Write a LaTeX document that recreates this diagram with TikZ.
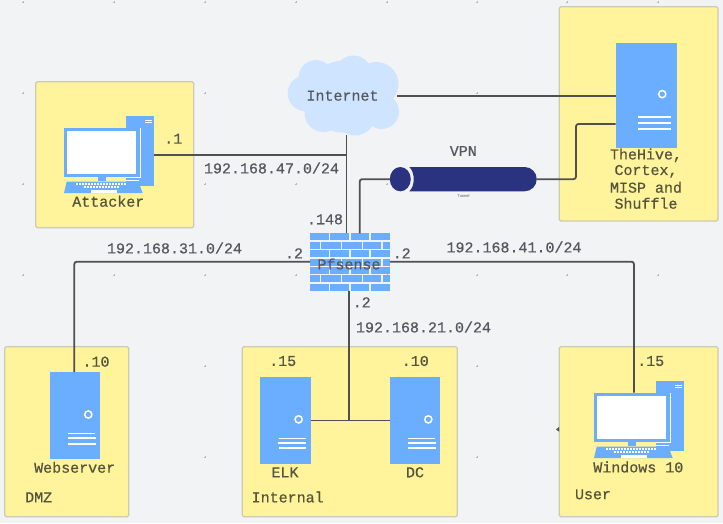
\documentclass[tikz,border=0pt]{standalone}
\usepackage{fontspec}
\setmainfont{Liberation Mono}[FakeBold=0.6]
\setsansfont{Liberation Sans}
\definecolor{bg}{HTML}{F2F3F5}
\definecolor{zone}{HTML}{FFF49C}
\definecolor{zoneline}{HTML}{CCCBB4}
\definecolor{dev}{HTML}{6BAEFF}
\definecolor{wire}{HTML}{505050}
\definecolor{tun}{HTML}{2A337F}
\definecolor{cloudc}{HTML}{CFE4FF}
\definecolor{txtbg}{HTML}{55585E}
\definecolor{txtzone}{HTML}{55543C}
\tikzset{
  zonebox/.style={draw=zoneline,fill=zone,line width=1.2pt,rounded corners=1.5pt},
  devbox/.style={fill=dev,inner sep=0pt,outer sep=0pt},
  conn/.style={draw=wire,line width=1.8pt,rounded corners=2.5pt},
  lab/.style={inner sep=0pt,outer sep=0pt,text=txtbg,font=\fontsize{15}{16}\selectfont,align=center},
  zlab/.style={lab,text=txtzone},
  ghost/.style={inner sep=0pt,outer sep=0pt},
}
\newcommand{\serverbox}[5]{%
  \begin{scope}[shift={(#2,#3)},x=#4pt,y=-#5pt]
    \node[devbox,minimum width=#4pt,minimum height=#5pt] (#1) at (0.5,0.5) {};
    \draw[white,line width=1.5pt] (0.763,0.487) circle[radius=3.6pt];
    \draw[white,line width=1.3pt] (0.37,0.706) -- (0.9,0.706);
    \draw[white,line width=1.9pt] (0.36,0.76) -- (0.91,0.76);
    \draw[white,line width=1.9pt] (0.37,0.82) -- (0.91,0.82);
  \end{scope}}
\newcommand{\computerbox}[3]{%
  \begin{scope}[shift={(#2,#3)}]
    \node[devbox,minimum width=28.3pt,minimum height=70.3pt] (#1tower) at (140.15,150.85) {};
    \draw[white,line width=1pt] (145.3,120) -- (152,120) (145.3,122.7) -- (152,122.7);
    \node[devbox,minimum width=75.6pt,minimum height=48.7pt] (#1mon) at (101.8,152.35) {};
    \fill[white] (67.3,131.3) rectangle (136.3,173.7);
    \draw[white,line width=.9pt] (140.1,128) -- (140.1,177) -- (126,177);
    \fill[dev] (98.3,176.5) rectangle (105.7,181);
    \fill[dev] (66.7,181.7) -- (138.3,181.7) -- (142.7,193) -- (64,193) -- cycle;
    \draw[white,line width=.7pt] (126,180.5) -- (138.5,180.5);
    \draw[white,line width=1.4pt,dash pattern=on 2pt off 1pt] (76,184) -- (126,184);
    \draw[white,line width=1.4pt,dash pattern=on 2pt off 1pt] (84,187) -- (119.3,187);
    \fill[white] (90.7,190.3) rectangle (116.7,193);
  \end{scope}}
\begin{document}
\begin{tikzpicture}[x=1pt,y=-1pt]
\useasboundingbox (0,0) rectangle (723,523);
\fill[bg] (0,0) rectangle (723,523);
% grid marks
\foreach \gx in {23,114,205,296,387,477,567,658}
  \foreach \gy in {2,93,184,275,366,457}
    \draw[black!28,line width=.4pt] (\gx-1.2,\gy) -- (\gx+1.2,\gy) (\gx,\gy-1.2) -- (\gx,\gy+1.2);
% zones
\draw[zonebox] (35.7,81.7) rectangle (193.7,227.7);
\draw[zonebox] (559.3,6.7) rectangle (718,221);
\draw[zonebox] (4.7,346.7) rectangle (128.7,516.7);
\draw[zonebox] (242.3,346.7) rectangle (457.3,516.7);
\draw[zonebox] (559.3,346.7) rectangle (718,516.7);
% devices
\computerbox{att}{0}{0}
\computerbox{win}{530}{265}
\serverbox{hive}{615.7}{43.3}{61}{104.4}
\serverbox{web}{49.7}{372}{50.6}{87.3}
\serverbox{elk}{259.7}{377}{51}{87}
\serverbox{dc}{389.7}{377}{50.6}{87}
% cloud
\fill[cloudc]
  (353.3,73.8) circle[radius=18.3]
  (305.5,93.3) circle[radius=17.8]
  (316,77.5) circle[radius=17.5]
  (376.5,84) circle[radius=22]
  (381.5,111.5) circle[radius=17.5]
  (323.5,113) circle[radius=19]
  (355,115) circle[radius=20.5]
  (343.3,96.7) circle[radius=36];
\node[ghost,minimum width=109pt,minimum height=79pt,text=txtbg,font=\fontsize{15}{16}\selectfont] (internet) at (342.5,95.7) {Internet};
% tunnel
\node[ghost,minimum width=146.7pt,minimum height=24.3pt] (tunnel) at (463.35,179.15) {};
\fill[tun] (409.3,167) -- (524.6,167) arc[start angle=-90,end angle=90,radius=12.15] -- (409.3,191.3)
  .. controls (415.2,186) and (415.2,172.3) .. (409.3,167) -- cycle;
\fill[tun] (400.3,179.15) ellipse[x radius=10.5,y radius=12.15];
% firewall
\foreach \ry in {0,2,4,6}
  \foreach \ax/\bx in {310/329,330.3/349,351/369,371/390}
    \fill[dev] (\ax,233.3+8.42*\ry) rectangle (\bx,240.3+8.42*\ry);
\foreach \ry in {1,3,5}
  \foreach \ax/\bx in {310/320,321.3/341,342.3/361.7,363/381.3,382.7/390}
    \fill[dev] (\ax,233.3+8.42*\ry) rectangle (\bx,240.3+8.42*\ry);
\node[ghost,minimum width=80pt,minimum height=57.7pt] (fw) at (350,262.15) {};
\node[lab] (fwlab) at (349,264) {Pfsense};
% connector ends
\coordinate (fwup) at (346.5,233.3);
\coordinate (fwvpn) at (359.7,233.3);
\coordinate (fwleft) at (310,261.7);
\coordinate (fwright) at (390,261.7);
\coordinate (fwdown) at (348.7,291);
\coordinate (fwjoin) at (348.7,420.5);
\coordinate (webtop) at (74.3,372);
\coordinate (wintop) at (634,392.7);
\coordinate (hivevpn) at (615.7,124);
\coordinate (bend) at (576,124);
\coordinate (atteast) at (154.3,155);
% connectors
\draw[conn] (fwup) -- (fwup |- internet.south);
\draw[conn] (atteast) -- (fwup |- atteast);
\draw[conn] (internet.east) -- (internet.east -| hive.west);
\draw[conn] (fwvpn) |- (tunnel.west);
\draw[conn] (tunnel.east) -| (bend) -- (hivevpn);
\draw[conn] (fwleft) -| (webtop);
\draw[conn] (fwright) -| (wintop);
\draw[conn] (fwdown) -- (fwjoin);
\draw[conn] (elk.east) -- (dc.west);
% small stray arrowhead
\fill[wire] (556,429.5) -- (559,427) -- (559,431.5) -- cycle;
% labels
\node[lab] (l1) at (173.3,138.7) {.1};
\node[zlab] (l2) at (108.3,201.3) {Attacker};
\node[lab] (l3) at (271.5,168) {192.168.47.0/24};
\node[lab] (l4) at (174.5,248) {192.168.31.0/24};
\node[lab] (l5) at (514,247) {192.168.41.0/24};
\node[lab] (l6) at (423.5,327) {192.168.21.0/24};
\node[lab] (l7) at (325,219.3) {.148};
\node[lab] (l8) at (294,253.3) {.2};
\node[lab] (l9) at (401.7,253.3) {.2};
\node[lab] (l10) at (361.7,302.3) {.2};
\node[lab] (l11) at (463.3,151) {VPN};
\node[lab,font=\sffamily\fontsize{4}{5}\selectfont] (l12) at (463.5,196) {Tunnel};
\node[zlab] (l13) at (646,155.3) {TheHive,};
\node[zlab] (l14) at (646,171.3) {Cortex,};
\node[zlab] (l15) at (646,187.3) {MISP and};
\node[zlab] (l16) at (646,203.3) {Shuffle};
\node[zlab] (l17) at (96,361.7) {.10};
\node[zlab] (l18) at (74.7,467.3) {Webserver};
\node[zlab] (l19) at (38.7,497.3) {DMZ};
\node[zlab] (l20) at (282.7,361) {.15};
\node[zlab] (l21) at (285,472.3) {ELK};
\node[zlab] (l22) at (415,472.3) {DC};
\node[zlab] (l23) at (415.3,361) {.10};
\node[zlab] (l24) at (287.7,497) {Internal};
\node[zlab] (l25) at (650.7,361) {.15};
\node[zlab] (l26) at (638.3,467) {Windows 10};
\node[zlab] (l27) at (593,494.3) {User};
\end{tikzpicture}
\end{document}
